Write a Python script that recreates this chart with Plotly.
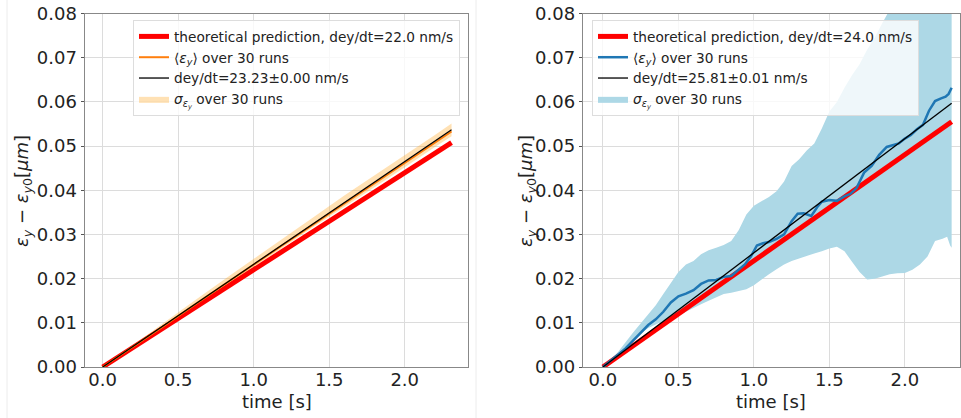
import plotly.graph_objects as go

# ---------------- data ----------------
# left panel
t_line_l = [0.0, 2.31]
theory_l = [0.0, 0.0508]
fit_l = [0.0, 0.0537]
t_l = [0.00, 0.20, 0.40, 0.60, 0.80, 1.00, 1.20, 1.40, 1.60, 1.80, 2.00, 2.20, 2.31]
mean_l = [0.0000, 0.0045, 0.0092, 0.0139, 0.0186, 0.0232, 0.0278, 0.0324, 0.0370, 0.0415, 0.0462, 0.0508, 0.0533]
upper_l = [0.0000, 0.0050, 0.0100, 0.0148, 0.0197, 0.0244, 0.0292, 0.0340, 0.0388, 0.0433, 0.0478, 0.0525, 0.0551]
lower_l = [0.0000, 0.0042, 0.0088, 0.0134, 0.0181, 0.0226, 0.0272, 0.0318, 0.0362, 0.0406, 0.0452, 0.0498, 0.0522]

# right panel
t_line_r = [0.0, 2.31]
theory_r = [0.0, 0.0555]
fit_r = [0.0, 0.0597]
t_mean_r = [0.00, 0.05, 0.10, 0.15, 0.20, 0.25, 0.30, 0.35, 0.40, 0.45, 0.50, 0.55, 0.60, 0.65,
            0.70, 0.75, 0.80, 0.85, 0.90, 0.94, 0.98, 1.02, 1.06, 1.10, 1.15, 1.20, 1.25, 1.29,
            1.33, 1.38, 1.42, 1.45, 1.50, 1.55, 1.60, 1.64, 1.68, 1.73, 1.78, 1.83, 1.88, 1.92,
            1.96, 2.00, 2.04, 2.08, 2.12, 2.16, 2.20, 2.24, 2.27, 2.29, 2.31]
mean_r = [0.0000, 0.0013, 0.0028, 0.0042, 0.0060, 0.0078, 0.0095, 0.0108, 0.0125, 0.0146, 0.0160,
          0.0166, 0.0174, 0.0188, 0.0196, 0.0197, 0.0204, 0.0206, 0.0220, 0.0232, 0.0250, 0.0275,
          0.0280, 0.0283, 0.0290, 0.0300, 0.0330, 0.0347, 0.0348, 0.0342, 0.0362, 0.0374, 0.0378,
          0.0376, 0.0386, 0.0392, 0.0405, 0.0440, 0.0455, 0.0480, 0.0498, 0.0502, 0.0506, 0.0517,
          0.0525, 0.0538, 0.0548, 0.0580, 0.0602, 0.0608, 0.0612, 0.0618, 0.0632]
t_up_r = [0.00, 0.10, 0.20, 0.25, 0.30, 0.35, 0.40, 0.45, 0.50, 0.55, 0.60, 0.65, 0.70, 0.75, 0.80,
          0.85, 0.90, 0.95, 1.00, 1.05, 1.10, 1.15, 1.20, 1.25, 1.30, 1.35, 1.40, 1.45, 1.50, 1.55,
          1.60, 1.65, 1.70, 1.75, 1.80, 1.85, 1.90, 2.00, 2.10, 2.20, 2.31]
upper_r = [0.0000, 0.0034, 0.0078, 0.0099, 0.0118, 0.0140, 0.0165, 0.0190, 0.0215, 0.0232, 0.0240,
           0.0255, 0.0264, 0.0270, 0.0276, 0.0285, 0.0310, 0.0345, 0.0365, 0.0375, 0.0385, 0.0398,
           0.0420, 0.0455, 0.0470, 0.0490, 0.0506, 0.0540, 0.0578, 0.0600, 0.0632, 0.0660, 0.0685,
           0.0718, 0.0745, 0.0778, 0.0810, 0.0870, 0.0920, 0.0960, 0.1000]
t_lo_r = [0.00, 0.10, 0.20, 0.25, 0.30, 0.35, 0.40, 0.45, 0.50, 0.55, 0.60, 0.65, 0.70, 0.75, 0.80,
          0.85, 0.90, 0.95, 1.00, 1.05, 1.10, 1.15, 1.20, 1.25, 1.30, 1.35, 1.40, 1.45, 1.50, 1.55,
          1.60, 1.65, 1.70, 1.75, 1.80, 1.85, 1.90, 1.95, 2.00, 2.05, 2.10, 2.15, 2.20, 2.25, 2.28,
          2.30, 2.31]
lower_r = [0.0000, 0.0025, 0.0058, 0.0075, 0.0088, 0.0096, 0.0104, 0.0110, 0.0116, 0.0125, 0.0134,
           0.0142, 0.0150, 0.0158, 0.0165, 0.0168, 0.0172, 0.0176, 0.0185, 0.0198, 0.0210, 0.0221,
           0.0232, 0.0240, 0.0246, 0.0252, 0.0257, 0.0262, 0.0268, 0.0272, 0.0262, 0.0238, 0.0215,
           0.0198, 0.0200, 0.0205, 0.0210, 0.0212, 0.0213, 0.0220, 0.0232, 0.0250, 0.0285, 0.0290,
           0.0295, 0.0275, 0.0270]

x_ticks = [0.0, 0.5, 1.0, 1.5, 2.0]
x_ticklabels = ["0.0", "0.5", "1.0", "1.5", "2.0"]
y_ticks = [0.00, 0.01, 0.02, 0.03, 0.04, 0.05, 0.06, 0.07, 0.08]
y_ticklabels = ["0.00", "0.01", "0.02", "0.03", "0.04", "0.05", "0.06", "0.07", "0.08"]

lbl_theory_l = "theoretical prediction, dey/dt=22.0 nm/s"
lbl_fit_l = "dey/dt=23.23±0.00 nm/s"
lbl_theory_r = "theoretical prediction, dey/dt=24.0 nm/s"
lbl_fit_r = "dey/dt=25.81±0.01 nm/s"
lbl_mean = "⟨<i>ε<sub>y</sub></i>⟩ over 30 runs"
lbl_sigma = "<i>σ<sub>ε<sub>y</sub></sub></i> over 30 runs"
y_title = "<i>ε<sub>y</sub></i> − <i>ε<sub>y</sub></i><sub>0</sub>[<i>μm</i>]"
x_title = "time [s]"

FONT = "DejaVu Sans"

fig = go.Figure()

def add_panel(xa, ya, leg, t_band_lo, lo, t_band_up, up, band_color,
              t_mean, mean, mean_color, mean_w, t_line, theory, fit, lbl_th, lbl_fit):
    fig.add_trace(go.Scatter(x=t_band_lo, y=lo, mode="lines", line=dict(width=0, color=band_color),
                             showlegend=False, hoverinfo="skip", xaxis=xa, yaxis=ya))
    fig.add_trace(go.Scatter(x=t_band_up, y=up, mode="lines",
                             line=dict(width=0, color=band_color), fill="tonexty",
                             fillcolor=band_color, name=lbl_sigma, legend=leg, legendrank=4,
                             xaxis=xa, yaxis=ya))
    fig.add_trace(go.Scatter(x=t_line, y=theory, mode="lines", line=dict(color="#ff0000", width=5),
                             name=lbl_th, legend=leg, legendrank=1, xaxis=xa, yaxis=ya))
    fig.add_trace(go.Scatter(x=t_mean, y=mean, mode="lines", line=dict(color=mean_color, width=mean_w),
                             name=lbl_mean, legend=leg, legendrank=2, xaxis=xa, yaxis=ya))
    fig.add_trace(go.Scatter(x=t_line, y=fit, mode="lines", line=dict(color="black", width=1.3),
                             name=lbl_fit, legend=leg, legendrank=3, xaxis=xa, yaxis=ya))

add_panel("x", "y", "legend", t_l, lower_l, t_l, upper_l, "rgba(255,170,40,0.35)",
          t_l, mean_l, "#ff7f0e", 2, t_line_l, theory_l, fit_l, lbl_theory_l, lbl_fit_l)
add_panel("x2", "y2", "legend2", t_lo_r, lower_r, t_up_r, upper_r, "#add8e6",
          t_mean_r, mean_r, "#1f77b4", 2.5, t_line_r, theory_r, fit_r, lbl_theory_r, lbl_fit_r)

W, H = 961, 418
ydom = [(H - 367) / H, (H - 13.5) / H]
xdom_l = [85 / W, 468.3 / W]
xdom_r = [583.3 / W, 959.5 / W]

axis_common = dict(
    automargin=False,
    showgrid=True, gridcolor="#dcdcdc", gridwidth=1, zeroline=False,
    showline=True, linecolor="#888888", linewidth=1, mirror=True,
    tickcolor="#555555",
    tickfont=dict(family=FONT, size=18, color="#222222"),
)
xaxis_common = dict(ticks="", ticklabelstandoff=-4, **axis_common)
yaxis_common = dict(ticks="outside", ticklen=3.5, **axis_common)

legend_common = dict(
    xanchor="left", yanchor="top", traceorder="normal",
    bgcolor="rgba(255,255,255,0.8)", bordercolor="#dddddd", borderwidth=1,
    font=dict(family=FONT, size=13.7, color="#222222"), tracegroupgap=0,
)

title_font = dict(family=FONT, size=18, color="#222222")
annotations = [
    dict(text=x_title, xref="paper", yref="paper", x=(xdom_l[0] + xdom_l[1]) / 2, y=(H - 401) / H,
         xanchor="center", yanchor="middle", showarrow=False, font=title_font),
    dict(text=x_title, xref="paper", yref="paper", x=(xdom_r[0] + xdom_r[1]) / 2, y=(H - 401) / H,
         xanchor="center", yanchor="middle", showarrow=False, font=title_font),
    dict(text=y_title, xref="paper", yref="paper", x=23 / W, y=(H - 191) / H, textangle=-90,
         xanchor="center", yanchor="middle", showarrow=False, font=title_font),
    dict(text=y_title, xref="paper", yref="paper", x=527 / W, y=(H - 191) / H, textangle=-90,
         xanchor="center", yanchor="middle", showarrow=False, font=title_font),
]

fig.update_layout(
    width=W, height=H,
    margin=dict(l=0, r=0, t=0, b=0, autoexpand=False),
    paper_bgcolor="white", plot_bgcolor="white",
    font=dict(family=FONT, size=13, color="#222222"),
    xaxis=dict(domain=xdom_l, range=[-0.117, 2.421], tickvals=x_ticks,
               ticktext=x_ticklabels, anchor="y", **xaxis_common),
    yaxis=dict(domain=ydom, range=[0, 0.08], tickvals=y_ticks, ticktext=y_ticklabels, anchor="x",
               **yaxis_common),
    xaxis2=dict(domain=xdom_r, range=[-0.13, 2.362], tickvals=x_ticks,
                ticktext=x_ticklabels, anchor="y2", **xaxis_common),
    yaxis2=dict(domain=ydom, range=[0, 0.08], tickvals=y_ticks, ticktext=y_ticklabels, anchor="x2",
                **yaxis_common),
    legend=dict(x=133 / W, y=(H - 20) / H, **legend_common),
    legend2=dict(x=592 / W, y=(H - 20) / H, **legend_common),
    showlegend=True,
    annotations=annotations,
    shapes=[
        dict(type="line", xref="paper", yref="paper", x0=7 / W, x1=7 / W, y0=0, y1=1,
             line=dict(color="#ececec", width=1)),
        dict(type="line", xref="paper", yref="paper", x0=476 / W, x1=476 / W, y0=0, y1=1,
             line=dict(color="#ececec", width=1)),
    ],
)

fig.write_html("out.html", config={"displayModeBar": False},
               post_script="document.body.style.margin='0';document.body.style.overflow='hidden';")
